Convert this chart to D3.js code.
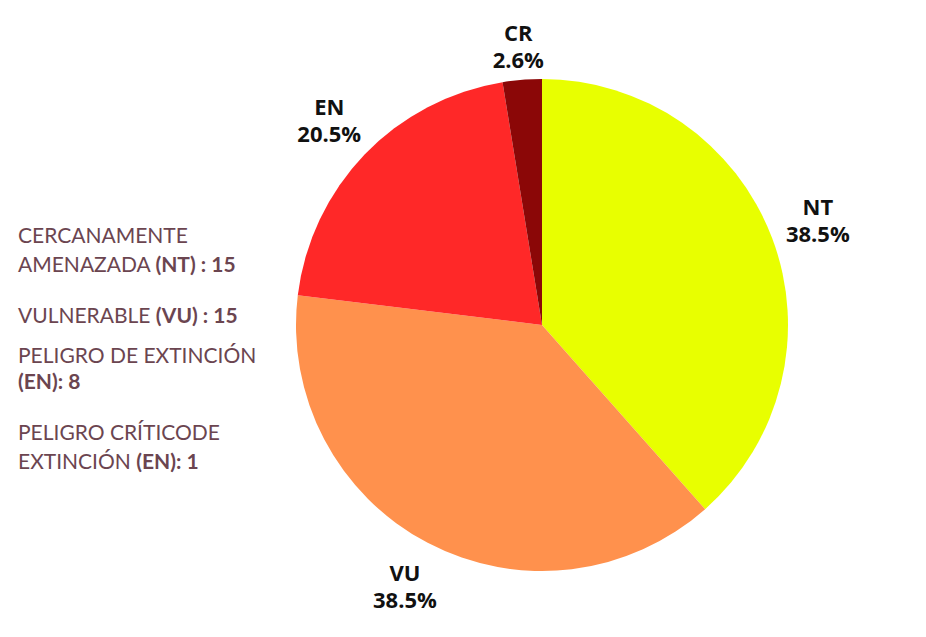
<!DOCTYPE html>
<html><head><meta charset="utf-8">
<script src="https://cdn.jsdelivr.net/npm/d3@7"></script>
<style>body{margin:0;background:#fff}svg{display:block}</style>
</head><body>
<script>
const categories = ["NT","VU","EN","CR"];
const values = [15,15,8,1];
const colors = ["#E8FF00","#FF914D","#FF2828","#8B0707"];
const legendLines = [
  [["CERCANAMENTE",false]],
  [["AMENAZADA ",false],["(NT) : 15",true]],
  [["VULNERABLE ",false],["(VU) : 15",true]],
  [["PELIGRO DE EXTINCIÓN",false]],
  [["(EN): 8",true]],
  [["PELIGRO CRÍTICODE",false]],
  [["EXTINCIÓN ",false],["(EN): 1",true]]
];
const legendBaselines = [243,272,323,363,389,440,469];

const W=926,H=637, cx=542, cy=325, R=246;
const svg=d3.select("body").append("svg").attr("width",W).attr("height",H);
const data=categories.map((c,i)=>({c,v:values[i],col:colors[i]}));
const total=d3.sum(values);
const pie=d3.pie().value(d=>d.v).sort(null);
const arcs=pie(data);
const arc=d3.arc().innerRadius(0).outerRadius(R);
const labelArc=d3.arc().innerRadius(295).outerRadius(295);
const g=svg.append("g").attr("transform",`translate(${cx},${cy})`);
g.selectAll("path").data(arcs).join("path").attr("d",arc).attr("fill",d=>d.data.col);

const fs=22, lh=27, capH=fs*0.714, blockH=capH+lh, minTop=25;
arcs.forEach(a=>{
  let [x,y]=labelArc.centroid(a);
  let top=cy+y-blockH/2;
  if(top<minTop) y+= (minTop-top);
  const b1=y-blockH/2+capH;
  const t=g.append("text").attr("text-anchor","middle")
    .attr("font-family","Open Sans, sans-serif").attr("font-weight",700)
    .attr("font-size",fs).attr("fill","#111");
  t.append("tspan").attr("x",x).attr("y",b1).text(a.data.c);
  t.append("tspan").attr("x",x).attr("y",b1+lh).text((a.data.v/total*100).toFixed(1)+"%");
});

const lg=svg.append("g");
legendLines.forEach((parts,i)=>{
  const t=lg.append("text").attr("x",18).attr("y",legendBaselines[i])
    .attr("font-family","Lato, sans-serif").attr("font-size",21).attr("fill","#6B4550");
  parts.forEach(p=>t.append("tspan").attr("font-weight",p[1]?700:400).text(p[0]));
});
</script>
</body></html>
